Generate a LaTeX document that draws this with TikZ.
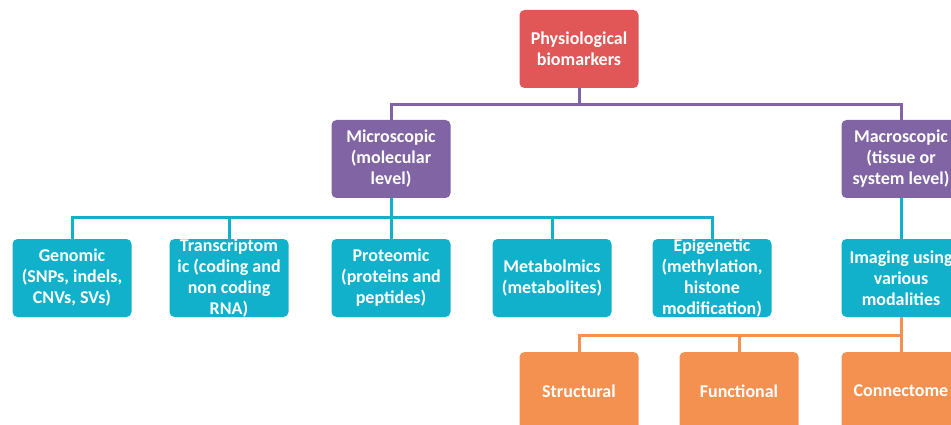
\documentclass[tikz,border=0pt]{standalone}
\usepackage{fontspec}
\setmainfont{Carlito}
\definecolor{rootred}{RGB}{225,86,86}
\definecolor{violet}{RGB}{128,100,164}
\definecolor{teal}{RGB}{18,177,203}
\definecolor{peach}{RGB}{244,145,80}
\begin{document}
\begin{tikzpicture}[x=1pt,y=-1pt,
  box/.style={rounded corners=5pt,minimum width=119pt,minimum height=78pt,inner sep=0pt,
    text=white,font=\bfseries\fontsize{18}{21}\selectfont},
  link/.style={line width=3pt}]
\def\lbl#1{\parbox[c][56pt][c]{118pt}{\centering #1}}
\useasboundingbox (0,0) rectangle (951,425);
\clip (0,0) rectangle (951,425);

\node[box,fill=rootred] at (579,49) (root) {\lbl{Physiological\\biomarkers}};
\node[box,fill=violet] at (391,159) (micro) {\lbl{Microscopic\\(molecular\\level)}};
\node[box,fill=violet] at (901,159) (macro) {\lbl{Macroscopic\\(tissue or\\system level)}};

\node[box,fill=teal] at (72,278) (genomic) {\lbl{Genomic\\(SNPs, indels,\\CNVs, SVs)}};
\node[box,fill=teal] at (229,278) (transcr) {\lbl{Transcriptom\\ic (coding and\\non coding\\RNA)}};
\node[box,fill=teal] at (391,278) (proteomic) {\lbl{Proteomic\\(proteins and\\peptides)}};
\node[box,fill=teal] at (552,278) (metab) {\lbl{Metabolmics\\(metabolites)}};
\node[box,fill=teal] at (712,278) (epi) {\lbl{Epigenetic\\(methylation,\\histone\\modification)}};
\node[box,fill=teal] at (901,278) (imaging) {\lbl{Imaging using\\various\\modalities}};

\node[box,fill=peach] at (579,391) (structural) {\lbl{Structural}};
\node[box,fill=peach] at (739,391) (functional) {\lbl{Functional}};
\node[box,fill=peach] at (901,391) (connectome) {\lbl{Connectome}};

% root -> micro, macro
\foreach \n in {micro,macro}
  \draw[link,violet] (root.south) -- ++(0,16) -| (\n.north);

% micro -> molecular levels
\foreach \n in {genomic,transcr,proteomic,metab,epi}
  \draw[link,teal] (micro.south) -- ++(0,19) -| (\n.north);
\draw[link,teal] (macro.south) -- (imaging.north);

% imaging -> modalities
\foreach \n in {structural,functional,connectome}
  \draw[link,peach] (imaging.south) -- ++(0,18) -| (\n.north);
\end{tikzpicture}
\end{document}
